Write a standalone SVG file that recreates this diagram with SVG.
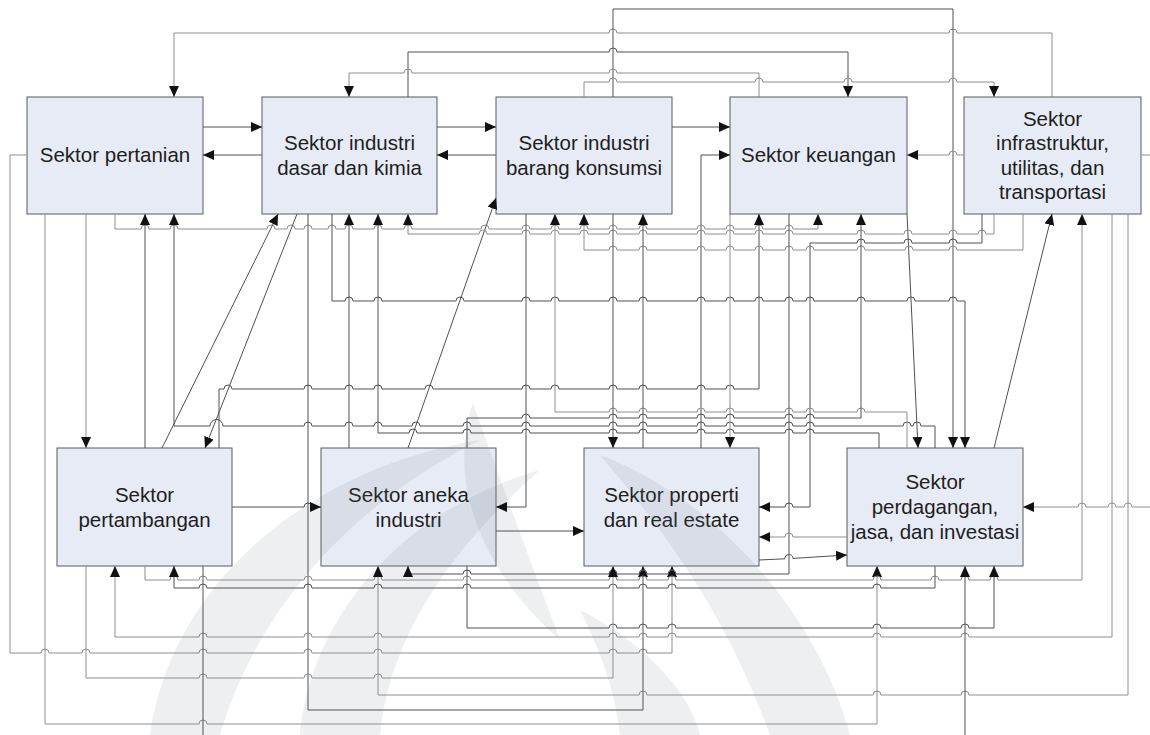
<svg xmlns="http://www.w3.org/2000/svg" width="1150" height="735" viewBox="0 0 1150 735">
  <defs>
    <marker id="arr" viewBox="0 0 11 10" markerWidth="11" markerHeight="10" refX="11" refY="5" markerUnits="userSpaceOnUse" orient="auto">
      <path d="M0,0 L11,5 L0,10 z" fill="#111"/>
    </marker>
    <style>
      .box { fill: #e7ebf5; stroke: #5a5a5a; stroke-width: 1; }
      .lbl { font-family: "Liberation Sans", Arial, sans-serif; font-size: 20.5px; fill: #1e1e1e; text-anchor: middle; }
      .c path { fill: none; stroke: #505050; stroke-width: 1; }
      .c path.l { stroke: #8e8e8e; }
      .c path.a { marker-end: url(#arr); }
      .wm { fill: #6f7a8a; opacity: 0.12; }
    </style>
  </defs>
  <rect width="1150" height="735" fill="#fff"/>

  <!-- sector boxes -->
  <g id="pertanian">
    <rect class="box" x="27" y="97" width="176" height="117"/>
    <text class="lbl" x="115" y="162">Sektor pertanian</text>
  </g>
  <g id="industri-dasar-kimia">
    <rect class="box" x="262" y="97" width="175" height="117"/>
    <text class="lbl" x="349.5" y="150">Sektor industri</text>
    <text class="lbl" x="349.5" y="174.5">dasar dan kimia</text>
  </g>
  <g id="industri-barang-konsumsi">
    <rect class="box" x="496" y="97" width="176" height="117"/>
    <text class="lbl" x="584" y="150">Sektor industri</text>
    <text class="lbl" x="584" y="174.5">barang konsumsi</text>
  </g>
  <g id="keuangan">
    <rect class="box" x="730" y="97" width="177" height="117"/>
    <text class="lbl" x="818.5" y="162">Sektor keuangan</text>
  </g>
  <g id="infrastruktur">
    <rect class="box" x="964" y="97" width="177" height="117"/>
    <text class="lbl" x="1052.5" y="125.5">Sektor</text>
    <text class="lbl" x="1052.5" y="150">infrastruktur,</text>
    <text class="lbl" x="1052.5" y="174.5">utilitas, dan</text>
    <text class="lbl" x="1052.5" y="199">transportasi</text>
  </g>
  <g id="pertambangan">
    <rect class="box" x="57" y="448" width="175" height="118"/>
    <text class="lbl" x="144.5" y="502">Sektor</text>
    <text class="lbl" x="144.5" y="526.5">pertambangan</text>
  </g>
  <g id="aneka-industri">
    <rect class="box" x="321" y="448" width="175" height="118"/>
    <text class="lbl" x="408.5" y="502">Sektor aneka</text>
    <text class="lbl" x="408.5" y="526.5">industri</text>
  </g>
  <g id="properti">
    <rect class="box" x="584" y="448" width="175" height="118"/>
    <text class="lbl" x="671.5" y="502">Sektor properti</text>
    <text class="lbl" x="671.5" y="526.5">dan real estate</text>
  </g>
  <g id="perdagangan">
    <rect class="box" x="847" y="448" width="176" height="118"/>
    <text class="lbl" x="935" y="489">Sektor</text>
    <text class="lbl" x="935" y="514">perdagangan,</text>
    <text class="lbl" x="935" y="539">jasa, dan investasi</text>
  </g>

  <!-- faint emblem in the background -->
  <g id="emblem">
    <path class="wm" d="M150,735 C170,590 300,470 480,440 C360,500 260,600 220,735 Z"/>
    <path class="wm" d="M300,735 C310,620 400,510 540,470 C460,540 390,630 380,735 Z"/>
    <path class="wm" d="M600,455 C720,500 820,620 850,735 L770,735 C735,640 690,560 600,455 Z"/>
    <path class="wm" d="M473,403 C450,470 470,560 560,640 C530,560 500,480 473,403 Z"/>
    <path class="wm" d="M580,610 C640,640 690,690 700,735 L620,735 C615,690 600,650 580,610 Z"/>
  </g>

  <!-- connectors; small arcs hop over crossing lines -->
  <g id="connectors" class="c">
    <!-- above the top row -->
    <path class="a l" d="M1052,97 V33 H957 A4 4 0 0 0 949,33 H617 A4 4 0 0 0 609,33 H174 V97"/>
    <path class="a" d="M613,97 V9 H953 V448"/>
    <path class="a" d="M408,97 V52 H609 A4 4 0 0 1 617,52 H848 V97"/>
    <path class="a l" d="M759,97 V73 H617 A4 4 0 0 0 609,73 H412 A4 4 0 0 0 404,73 H349 V97"/>
    <path class="a l" d="M584,97 V82 H609 A4 4 0 0 1 617,82 H755 A4 4 0 0 1 763,82 H844 A4 4 0 0 1 852,82 H949 A4 4 0 0 1 957,82 H994 V97"/>

    <!-- between neighbours in the top row -->
    <path class="a" d="M203,127 H262"/>
    <path class="a" d="M262,155 H203"/>
    <path class="a" d="M437,127 H496"/>
    <path class="a" d="M496,155 H437"/>
    <path class="a" d="M672,127 H730"/>
    <path class="a" d="M701,448 V155 H730"/>
    <path class="a l" d="M964,155 H957 A4 4 0 0 0 949,155 H907"/>
    <path class="l" d="M1141,155 H1150"/>
    <path class="a l" d="M1150,507 H1132 A4 4 0 0 0 1124,507 H1116 A4 4 0 0 0 1108,507 H1086 A4 4 0 0 0 1078,507 H1023"/>

    <!-- from Sektor pertanian -->
    <path class="a l" d="M27,155 H10 V653 H41 A4 4 0 0 1 49,653 H82 A4 4 0 0 1 90,653 H199 A4 4 0 0 1 207,653 H304 A4 4 0 0 1 312,653 H374 A4 4 0 0 1 382,653 H609 A4 4 0 0 1 617,653 H639 A4 4 0 0 1 647,653 H672 V566"/>
    <path class="a l" d="M45,214 V724 H199 A4 4 0 0 1 207,724 H877 V566"/>
    <path class="a l" d="M86,214 V448"/>
    <path class="a l" d="M115,214 V229 H141 A4 4 0 0 1 149,229 H170 A4 4 0 0 1 178,229 H267 A4 4 0 0 1 275,229 H287 A4 4 0 0 1 295,229 H304 A4 4 0 0 1 312,229 H328 A4 4 0 0 1 336,229 H345 A4 4 0 0 1 353,229 H374 A4 4 0 0 1 382,229 H404 A4 4 0 0 1 412,229 H481 A4 4 0 0 1 489,229 H522 A4 4 0 0 1 530,229 H551 A4 4 0 0 1 559,229 H580 A4 4 0 0 1 588,229 H609 A4 4 0 0 1 617,229 H639 A4 4 0 0 1 647,229 H697 A4 4 0 0 1 705,229 H726 A4 4 0 0 1 734,229 H755 A4 4 0 0 1 763,229 H785 A4 4 0 0 1 793,229 H818 V214"/>

    <!-- into Sektor pertanian -->
    <path class="a" d="M145,448 V214"/>
    <path class="a" d="M935,448 V426 H921 A4 4 0 0 0 913,426 H911 A4 4 0 0 0 903,426 H814 A4 4 0 0 0 806,426 H793 A4 4 0 0 0 785,426 H734 A4 4 0 0 0 726,426 H705 A4 4 0 0 0 697,426 H647 A4 4 0 0 0 639,426 H617 A4 4 0 0 0 609,426 H530 A4 4 0 0 0 522,426 H471 A4 4 0 0 0 463,426 H420 A4 4 0 0 0 412,426 H382 A4 4 0 0 0 374,426 H353 A4 4 0 0 0 345,426 H312 A4 4 0 0 0 304,426 H223 A6.5 6.5 0 0 0 210,426 H174 V214"/>

    <!-- diagonals -->
    <path class="a" d="M162,448 L278,214"/>
    <path class="a" d="M297,214 L205,448"/>
    <path class="a" d="M408,448 L496,198"/>
    <path class="a" d="M907,214 L918,448"/>
    <path class="a" d="M994,448 L1052,214"/>

    <!-- middle band -->
    <path class="a" d="M219,448 V389 H224 A4 4 0 0 1 232,389 H304 A4 4 0 0 1 312,389 H345 A4 4 0 0 1 353,389 H374 A4 4 0 0 1 382,389 H425 A4 4 0 0 1 433,389 H522 A4 4 0 0 1 530,389 H551 A4 4 0 0 1 559,389 H609 A4 4 0 0 1 617,389 H639 A4 4 0 0 1 647,389 H697 A4 4 0 0 1 705,389 H726 A4 4 0 0 1 734,389 H759 V214"/>
    <path class="a" d="M308,214 V710 H643 V566"/>
    <path class="a" d="M332,214 V301 H345 A4 4 0 0 1 353,301 H374 A4 4 0 0 1 382,301 H456 A4 4 0 0 1 464,301 H522 A4 4 0 0 1 530,301 H551 A4 4 0 0 1 559,301 H609 A4 4 0 0 1 617,301 H639 A4 4 0 0 1 647,301 H697 A4 4 0 0 1 705,301 H726 A4 4 0 0 1 734,301 H755 A4 4 0 0 1 763,301 H785 A4 4 0 0 1 793,301 H806 A4 4 0 0 1 814,301 H857 A4 4 0 0 1 865,301 H907 A4 4 0 0 1 915,301 H949 A4 4 0 0 1 957,301 H965 V448"/>
    <path class="a" d="M349,448 V214"/>
    <path class="a" d="M879,448 V433 H814 A4 4 0 0 0 806,433 H793 A4 4 0 0 0 785,433 H734 A4 4 0 0 0 726,433 H705 A4 4 0 0 0 697,433 H647 A4 4 0 0 0 639,433 H617 A4 4 0 0 0 609,433 H530 A4 4 0 0 0 522,433 H471 A4 4 0 0 0 463,433 H417 A4 4 0 0 0 409,433 H378 V214"/>
    <path class="a l" d="M994,214 V234 H986 A4 4 0 0 0 978,234 H957 A4 4 0 0 0 949,234 H912 A4 4 0 0 0 904,234 H865 A4 4 0 0 0 857,234 H793 A4 4 0 0 0 785,234 H763 A4 4 0 0 0 755,234 H734 A4 4 0 0 0 726,234 H705 A4 4 0 0 0 697,234 H647 A4 4 0 0 0 639,234 H617 A4 4 0 0 0 609,234 H588 A4 4 0 0 0 580,234 H559 A4 4 0 0 0 551,234 H530 A4 4 0 0 0 522,234 H487 A4 4 0 0 0 479,234 H408 V214"/>
    <path class="a l" d="M1023,214 V250 H957 A4 4 0 0 0 949,250 H913 A4 4 0 0 0 905,250 H865 A4 4 0 0 0 857,250 H814 A4 4 0 0 0 806,250 H793 A4 4 0 0 0 785,250 H763 A4 4 0 0 0 755,250 H734 A4 4 0 0 0 726,250 H705 A4 4 0 0 0 697,250 H647 A4 4 0 0 0 639,250 H617 A4 4 0 0 0 609,250 H584 V214"/>
    <path class="a" d="M982,214 V243 H957 A4 4 0 0 0 949,243 H912 A4 4 0 0 0 904,243 H865 A4 4 0 0 0 857,243 H810 V507 H793 A4 4 0 0 0 785,507 H759"/>
    <path class="a" d="M526,214 V507 H496"/>
    <path class="a l" d="M907,448 V412 H865 A4 4 0 0 0 857,412 H814 A4 4 0 0 0 806,412 H793 A4 4 0 0 0 785,412 H734 A4 4 0 0 0 726,412 H705 A4 4 0 0 0 697,412 H647 A4 4 0 0 0 639,412 H617 A4 4 0 0 0 609,412 H555 V214"/>
    <path class="a" d="M613,214 V448"/>
    <path class="a" d="M643,448 V214"/>
    <path class="a l" d="M730,214 V448"/>
    <path class="a" d="M467,448 V418 H522 A4 4 0 0 1 530,418 H609 A4 4 0 0 1 617,418 H639 A4 4 0 0 1 647,418 H697 A4 4 0 0 1 705,418 H726 A4 4 0 0 1 734,418 H785 A4 4 0 0 1 793,418 H806 A4 4 0 0 1 814,418 H861 V214"/>
    <path class="a" d="M789,214 V574 H676 A4 4 0 0 0 668,574 H647 A4 4 0 0 0 639,574 H617 A4 4 0 0 0 609,574 H471 A4 4 0 0 0 463,574 H408 V566"/>

    <!-- bottom row neighbours -->
    <path class="a" d="M232,507 H304 A4 4 0 0 1 312,507 H321"/>
    <path class="a" d="M496,531 H584"/>
    <path class="a l" d="M847,537 H793 A4 4 0 0 0 785,537 H759"/>
    <path class="a" d="M759,560 L785,558.8 A4 4 0 0 1 793,558.4 L847,555"/>

    <!-- below the bottom row -->
    <path class="a l" d="M145,566 V580 H170 A4 4 0 0 1 178,580 H199 A4 4 0 0 1 207,580 H304 A4 4 0 0 1 312,580 H374 A4 4 0 0 1 382,580 H463 A4 4 0 0 1 471,580 H609 A4 4 0 0 1 617,580 H639 A4 4 0 0 1 647,580 H668 A4 4 0 0 1 676,580 H873 A4 4 0 0 1 881,580 H931 A4 4 0 0 1 939,580 H961 A4 4 0 0 1 969,580 H990 A4 4 0 0 1 998,580 H1082 V214"/>
    <path class="a" d="M935,566 V588 H881 A4 4 0 0 0 873,588 H676 A4 4 0 0 0 668,588 H647 A4 4 0 0 0 639,588 H617 A4 4 0 0 0 609,588 H471 A4 4 0 0 0 463,588 H382 A4 4 0 0 0 374,588 H312 A4 4 0 0 0 304,588 H207 A4 4 0 0 0 199,588 H174 V566"/>
    <path class="a" d="M467,566 V628 H609 A4 4 0 0 1 617,628 H639 A4 4 0 0 1 647,628 H668 A4 4 0 0 1 676,628 H873 A4 4 0 0 1 881,628 H961 A4 4 0 0 1 969,628 H994 V566"/>
    <path class="a l" d="M1112,214 V637 H969 A4 4 0 0 0 961,637 H881 A4 4 0 0 0 873,637 H676 A4 4 0 0 0 668,637 H647 A4 4 0 0 0 639,637 H617 A4 4 0 0 0 609,637 H382 A4 4 0 0 0 374,637 H312 A4 4 0 0 0 304,637 H207 A4 4 0 0 0 199,637 H115 V566"/>
    <path class="a l" d="M86,566 V678 H199 A4 4 0 0 1 207,678 H304 A4 4 0 0 1 312,678 H374 A4 4 0 0 1 382,678 H613 V566"/>
    <path class="a l" d="M1128,214 V695 H969 A4 4 0 0 0 961,695 H881 A4 4 0 0 0 873,695 H647 A4 4 0 0 0 639,695 H378 V566"/>
    <path d="M203,566 V735"/>
    <path class="a" d="M965,735 V566"/>
  </g>
</svg>
